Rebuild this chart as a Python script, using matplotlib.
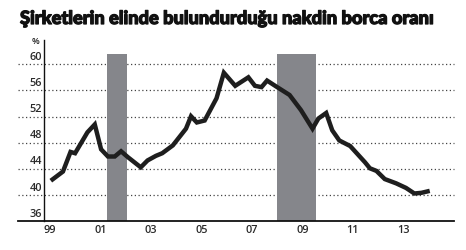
import matplotlib
matplotlib.use('Agg')
import matplotlib.pyplot as plt
import matplotlib.patheffects as pe
from matplotlib.transforms import blended_transform_factory, offset_copy

# Cash-to-debt ratio of companies (%)
years = [1999.04, 1999.52, 1999.82, 2000.0, 2000.49, 2000.78, 2001.03, 2001.3,
         2001.57, 2001.82, 2002.09, 2002.6, 2002.87, 2003.2, 2003.45, 2003.87,
         2004.39, 2004.59, 2004.82, 2005.13, 2005.6, 2005.89, 2006.34, 2006.86,
         2007.12, 2007.38, 2007.6, 2007.96, 2008.49, 2008.94, 2009.4, 2009.63,
         2009.94, 2010.18, 2010.46, 2010.89, 2011.48, 2011.67, 2011.93, 2012.26,
         2012.71, 2013.1, 2013.43, 2013.71, 2014.04]
ratio = [42.2, 43.6, 46.6, 46.4, 49.6, 50.8, 47.0, 45.9,
         45.9, 46.7, 45.8, 44.25, 45.3, 46.0, 46.4, 47.6,
         50.15, 52.05, 51.1, 51.4, 54.8, 58.7, 56.7, 58.0,
         56.7, 56.5, 57.5, 56.6, 55.3, 53.0, 50.15, 51.7,
         52.55, 49.9, 48.35, 47.5, 45.0, 44.1, 43.7, 42.45,
         41.8, 41.1, 40.25, 40.35, 40.65]

# recession periods (shaded)
shade_start = [2001.26, 2008.0]
shade_end = [2002.04, 2009.53]
shade_top = 61.6

xtick_pos = [1999, 2001, 2003, 2005, 2007, 2009, 2011, 2013]
xtick_labels = ['99', '01', '03', '05', '07', '09', '11', '13']
ytick_pos = [36, 40, 44, 48, 52, 56, 60]

title = 'Şirketlerin elinde bulundurduğu nakdin borca oranı'

W, H = 466, 250
fig = plt.figure(figsize=(W / 100, H / 100), dpi=100)
ax = fig.add_axes([44 / W, (H - 221.3) / H, 410 / W, 181.3 / H])
ax.set_xlim(1998.77, 2015.0)
ax.set_ylim(36, 63.7)

for s in ['top', 'right', 'bottom']:
    ax.spines[s].set_visible(False)
ax.spines['left'].set_linewidth(1.0)
ax.spines['left'].set_color('#111111')

ext = -26 / 410
# dotted gridlines, running left under the labels
for v in ytick_pos[1:]:
    ax.axhline(v, xmin=ext, xmax=1.0, color='#444444', lw=0.9,
               linestyle=(0, (1, 2)), clip_on=False, zorder=1)
# bottom axis line
ax.axhline(36, xmin=ext, xmax=1.0, color='#111111', lw=1.3, clip_on=False, zorder=4)

for a, b in zip(shade_start, shade_end):
    ax.fill_between([a, b], 36, shade_top, color='#85868b', lw=0, zorder=2)

ax.plot(years, ratio, color='#1e1e1e', lw=3.2, solid_joinstyle='miter',
        solid_capstyle='butt', zorder=3)

lab_font = dict(fontsize=7.8, color='#2a2a2a', family='Open Sans', fontweight='semibold')
ax.set_yticks([])
ax.set_xticks(xtick_pos)
ax.set_xticklabels(xtick_labels, **lab_font)
ax.tick_params(axis='x', length=0, pad=3)

trans = offset_copy(blended_transform_factory(ax.transAxes, ax.transData),
                    fig=fig, x=-2, y=1.5, units='dots')
for v in ytick_pos:
    ax.text(0, v, str(v), transform=trans, ha='right', va='bottom', **lab_font)
ax.text(36 / W, (H - 42) / H, '%', transform=fig.transFigure, ha='center',
        va='center', fontsize=6.5, color='#222222', family='Open Sans',
        fontweight='semibold')

t = fig.text(20 / W, (H - 24) / H, title, ha='left', va='baseline',
             fontsize=14, fontweight='black', family=['Lato', 'DejaVu Sans'],
             color='#111111',
             path_effects=[pe.withStroke(linewidth=0.9, foreground='#111111')])
# fit the title width to the reference
fig.canvas.draw()
w = t.get_window_extent().width
t.set_fontsize(14 * 416 / w)

fig.savefig('out.png', dpi=100)
